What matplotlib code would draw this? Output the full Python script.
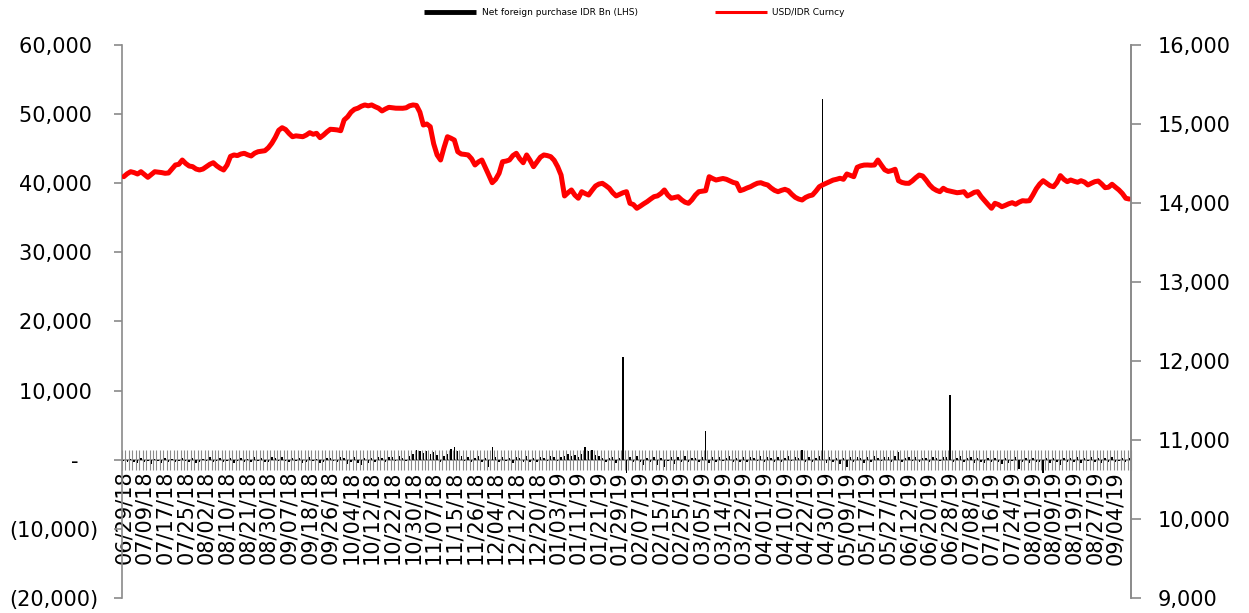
import matplotlib
matplotlib.use('Agg')
import matplotlib.pyplot as plt
from matplotlib.lines import Line2D
import numpy as np

# ---------------- data ----------------
date_labels = ['06/29/18', '07/09/18', '07/17/18', '07/25/18', '08/02/18', '08/10/18', '08/21/18',
               '08/30/18', '09/07/18', '09/18/18', '09/26/18', '10/04/18', '10/12/18', '10/22/18',
               '10/30/18', '11/07/18', '11/15/18', '11/26/18', '12/04/18', '12/12/18', '12/20/18',
               '01/03/19', '01/11/19', '01/21/19', '01/29/19', '02/07/19', '02/15/19', '02/25/19',
               '03/05/19', '03/14/19', '03/22/19', '04/01/19', '04/10/19', '04/22/19', '04/30/19',
               '05/09/19', '05/17/19', '05/27/19', '06/12/19', '06/20/19', '06/28/19', '07/08/19',
               '07/16/19', '07/24/19', '08/01/19', '08/09/19', '08/19/19', '08/27/19', '09/04/19']

usd_idr = [
    14333, 14370, 14396, 14385, 14367, 14396, 14360, 14325, 14360, 14396,
    14390, 14385, 14376, 14380, 14430, 14481, 14490, 14544, 14500, 14468,
    14460, 14430, 14418, 14430, 14460, 14490, 14510, 14470, 14440, 14418,
    14480, 14590, 14608, 14600, 14620, 14629, 14610, 14595, 14630, 14649,
    14655, 14662, 14700, 14756, 14830, 14920, 14953, 14930, 14880, 14839,
    14850, 14845, 14839, 14860, 14890, 14870, 14882, 14827, 14860, 14900,
    14933, 14930, 14925, 14915, 15051, 15090, 15150, 15186, 15200, 15225,
    15241, 15230, 15241, 15219, 15200, 15165, 15190, 15211, 15205, 15200,
    15200, 15199, 15205, 15230, 15241, 15235, 15150, 14987, 15000, 14966,
    14750, 14608, 14544, 14700, 14839, 14820, 14797, 14649, 14620, 14615,
    14608, 14560, 14481, 14520, 14544, 14450, 14354, 14257, 14300, 14376,
    14523, 14530, 14544, 14600, 14629, 14560, 14510, 14608, 14540, 14460,
    14520, 14580, 14608, 14600, 14586, 14540, 14460, 14354, 14089, 14130,
    14165, 14100, 14060, 14143, 14120, 14101, 14160, 14215, 14240, 14249,
    14220, 14186, 14130, 14089, 14110, 14130, 14143, 13996, 13980, 13933,
    13960, 13990, 14017, 14050, 14080, 14090, 14120, 14165, 14100, 14060,
    14070, 14080, 14040, 14010, 13996, 14040, 14100, 14143, 14150, 14156,
    14333, 14310, 14291, 14300, 14310, 14300, 14280, 14260, 14249, 14156,
    14170, 14190, 14206, 14230, 14250, 14257, 14240, 14228, 14190, 14160,
    14143, 14160, 14173, 14156, 14110, 14072, 14050, 14038, 14070, 14090,
    14101, 14150, 14206, 14230, 14250, 14270, 14290, 14300, 14313, 14300,
    14367, 14350, 14333, 14452, 14470, 14480, 14481, 14478, 14481, 14544,
    14480, 14420, 14399, 14410, 14427, 14282, 14260, 14250, 14249, 14280,
    14320, 14354, 14342, 14290, 14230, 14186, 14160, 14143, 14186, 14160,
    14150, 14140, 14130, 14135, 14143, 14089, 14110, 14135, 14143, 14080,
    14030, 13980, 13933, 13996, 13980, 13953, 13970, 13990, 14004, 13984,
    14010, 14029, 14025, 14029, 14100, 14180, 14240, 14282, 14250, 14219,
    14206, 14260, 14346, 14300, 14270, 14291, 14275, 14262, 14282, 14265,
    14228, 14250, 14270, 14278, 14240, 14194, 14200, 14237, 14200, 14165,
    14120, 14060, 14050]

net_foreign = [
    -250, -400, 150, -300, -500, 200, -350, -150, -600, 100,
    -200, -450, 250, -300, 150, -400, -250, 300, -200, -350,
    200, -500, -300, 150, -250, 350, -400, -200, 250, -300,
    -150, 300, -450, -250, 200, -350, 150, -300, 400, -200,
    250, -400, -300, 350, 200, -250, 450, -150, -350, 300,
    -200, 250, -450, -300, 400, -250, 150, -500, -350, 200,
    300, -250, -400, 450, 200, -600, -300, 350, -450, -700,
    250, -500, 300, -350, 400, 200, -300, 450, 350, -250,
    500, 300, -200, 600, 900, 1400, 1200, 1000, 1300, 800,
    1100, 700, -300, 500, 900, 1500, 1900, 1200, 600, -200,
    400, -350, 300, 500, -400, 250, -1100, 1900, 350, -300,
    450, -250, 300, -500, 350, 200, -400, 500, -300, 250,
    -350, 400, 300, -250, 500, 350, -200, 450, 600, 800,
    500, 700, 400, 900, 1900, 1300, 1400, 700, 500, 300,
    -300, 250, 400, -500, 300, 14800, -1900, 400, -350, 500,
    -300, -700, 250, -400, 350, -700, 300, -1100, -250, 400,
    -600, 350, -300, 500, -400, 300, 250, -350, 400, 4200,
    -500, 350, -300, 450, -250, 300, 500, -350, 250, -400,
    350, -300, 450, 300, -250, 500, -400, 350, 250, -300,
    400, -350, 300, 500, -250, 450, 300, 1400, -300, 350,
    -400, 300, 500, 52200, -500, 400, -350, 300, -600, 250,
    -1100, 350, -300, 400, 250, -450, 350, -300, 500, 300,
    -250, 400, 350, -300, 500, 1100, -350, 300, 450, -250,
    350, -400, 300, 250, -350, 450, 300, -250, 400, 350,
    9300, -400, 300, 500, -300, 250, 350, -450, 300, -350,
    -500, 300, -400, 250, -350, -600, 300, -450, -250, 350,
    -1400, -300, 250, -500, 300, -400, -350, -1900, 300, -450,
    250, -350, -700, 300, -400, 250, -300, 350, -450, 300,
    -250, 400, -350, 300, -500, 250, -300, 350, -400, -250,
    300, -350, 200]

left_ticks = [-20000, -10000, 0, 10000, 20000, 30000, 40000, 50000, 60000]
left_labels = ['(20,000)', '(10,000)', '-   ', '10,000 ', '20,000 ', '30,000 ',
               '40,000 ', '50,000 ', '60,000 ']
right_ticks = [9000, 10000, 11000, 12000, 13000, 14000, 15000, 16000]
right_labels = ['9,000', '10,000', '11,000', '12,000', '13,000', '14,000', '15,000', '16,000']

series_names = ['Net foreign purchase IDR Bn (LHS)', 'USD/IDR Curncy']

# ---------------- plot ----------------
GREY = '#8a8a8a'
N = len(usd_idr)
x = np.arange(N)
step = 6

fig = plt.figure(figsize=(12.49, 6.13), dpi=100)
ax = fig.add_axes([0.0977, 0.0245, 0.8078, 0.9021])

ax.bar(x, net_foreign, width=0.4, color='black', zorder=3)
ax.set_xlim(-0.5, N - 0.5)
ax.set_ylim(-20000, 60000)

for s in ['top']:
    ax.spines[s].set_visible(False)
ax.spines['bottom'].set_position(('data', 0))
for s in ['bottom', 'left', 'right']:
    ax.spines[s].set_color(GREY)
    ax.spines[s].set_linewidth(1.2)

ax.set_yticks(left_ticks)
ax.set_yticklabels(left_labels)
ax.tick_params(axis='y', direction='out', length=6, width=1.2, color=GREY,
               labelsize=15, pad=11)

ax.set_xticks(x[::step])
ax.set_xticklabels(date_labels, rotation=90, fontsize=15)
ax.set_xticks(np.arange(N + 1) - 0.5, minor=True)
ax.tick_params(axis='x', which='major', length=0, pad=8)
ax.tick_params(axis='x', which='minor', direction='inout', length=15, width=0.8, color=GREY)

ax2 = ax.twinx()
ax2.plot(x, usd_idr, color='#ff0000', lw=3.6, solid_capstyle='round', solid_joinstyle='round', zorder=2)
ax2.set_ylim(9000, 16000)
for s in ['top', 'bottom', 'left']:
    ax2.spines[s].set_visible(False)
ax2.spines['right'].set_color(GREY)
ax2.spines['right'].set_linewidth(1.2)
ax2.set_yticks(right_ticks)
ax2.set_yticklabels(right_labels)
ax2.tick_params(axis='y', direction='out', length=7, width=1.2, color=GREY,
                labelsize=15, pad=12)

handles = [Line2D([], [], color='black', lw=3.5, solid_capstyle='butt'),
           Line2D([], [], color='#ff0000', lw=2.2, solid_capstyle='butt')]
fig.legend(handles, series_names, loc='center', bbox_to_anchor=(0.508, 0.979), ncol=2,
           frameon=False, prop={'family': 'Liberation Sans Narrow', 'size': 6.5},
           handlelength=5.8, handletextpad=0.6, columnspacing=8.5)

fig.savefig('out.png', dpi=100)
